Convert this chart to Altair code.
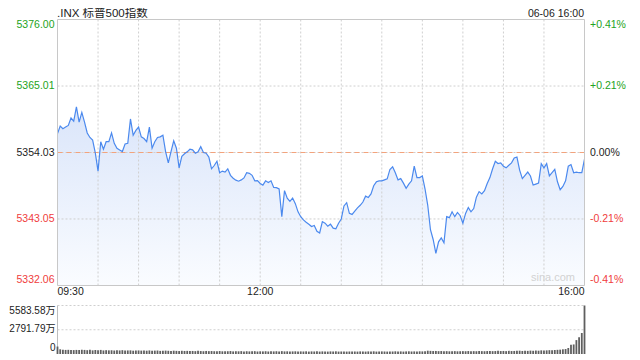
import altair as alt
import pandas as pd

# ---------------- data ----------------
TITLE = ".INX 标普500指数"
STAMP = "06-06 16:00"
WATERMARK = "sina.com"
PREV_CLOSE = 5354.03
PRICE_MIN, PRICE_MAX = 5332.06, 5376.00
VOL_MAX = 5583.58
STEP_MIN = 2  # one sample every 2 minutes from 09:30

price_ticks = [5376.00, 5365.01, 5354.03, 5343.05, 5332.06]
price_tick_labels = ["5376.00", "5365.01", "5354.03", "5343.05", "5332.06"]
pct_tick_labels = ["+0.41%", "+0.21%", "0.00%", "-0.21%", "-0.41%"]
tick_colors = ["#22a322", "#22a322", "#222222", "#f03c3c", "#f03c3c"]

time_label_minutes = [0, 150, 390]
time_labels = ["09:30", "12:00", "16:00"]
grid_minutes = [30, 60, 90, 120, 150, 180, 210, 240, 270, 300, 330, 360]

vol_ticks = [5583.58, 2791.79, 0]
vol_tick_labels = ["5583.58万", "2791.79万", "0"]

prices = [
    5357.15, 5358.39, 5357.96, 5358.23, 5358.50, 5359.73, 5359.20, 5361.56, 5359.04, 5360.65,
    5359.04, 5357.26, 5356.51, 5356.08, 5353.92, 5350.96, 5355.81, 5354.57, 5355.81, 5355.81,
    5357.26, 5355.54, 5354.73, 5354.46, 5354.19, 5355.43, 5355.54, 5359.57, 5356.88, 5357.69,
    5358.23, 5356.61, 5356.34, 5355.81, 5358.23, 5354.73, 5355.81, 5356.51, 5356.61, 5356.88,
    5354.19, 5352.31, 5354.19, 5355.97, 5354.73, 5351.50, 5353.38, 5353.81, 5354.14, 5354.57,
    5354.46, 5353.92, 5354.14, 5355.00, 5354.03, 5353.92, 5353.28, 5351.34, 5351.88, 5352.58,
    5350.69, 5350.96, 5350.80, 5351.34, 5350.26, 5349.78, 5349.46, 5349.29, 5349.51, 5349.83,
    5350.69, 5350.59, 5350.26, 5349.35, 5349.40, 5348.92, 5348.65, 5349.35, 5349.08, 5349.35,
    5348.27, 5348.22, 5348.00, 5343.43, 5347.73, 5346.50, 5345.96, 5346.50, 5345.58, 5344.23,
    5343.43, 5342.89, 5342.51, 5342.19, 5341.81, 5341.97, 5341.01, 5340.74, 5342.62, 5342.35,
    5341.87, 5342.19, 5341.54, 5341.44, 5342.35, 5343.05, 5345.20, 5345.74, 5343.97, 5343.80,
    5344.34, 5344.88, 5345.31, 5345.85, 5346.82, 5346.60, 5347.19, 5348.54, 5349.19, 5349.35,
    5349.35, 5349.51, 5349.67, 5351.23, 5351.66, 5350.69, 5349.51, 5349.72, 5348.97, 5348.11,
    5348.81, 5349.35, 5351.77, 5349.89, 5349.89, 5350.15, 5348.00, 5345.31, 5341.27, 5339.66,
    5337.35, 5339.28, 5339.93, 5339.12, 5343.43, 5343.27, 5344.23, 5343.43, 5344.13, 5343.59,
    5342.35, 5343.97, 5344.93, 5344.23, 5344.77, 5346.66, 5347.57, 5347.19, 5347.73, 5348.92,
    5349.89, 5351.34, 5352.58, 5352.20, 5352.31, 5351.77, 5351.50, 5351.93, 5352.31, 5353.12,
    5353.28, 5351.12, 5349.72, 5350.26, 5350.80, 5350.15, 5348.65, 5348.81, 5348.97, 5352.20,
    5351.50, 5352.20, 5350.15, 5350.69, 5351.23, 5349.19, 5347.89, 5348.43, 5349.35, 5351.77,
    5352.04, 5350.69, 5350.80, 5350.69, 5350.69, 5352.95,
]

volumes = [
    860, 540, 500, 470, 480, 460, 450, 470, 460, 490,
    470, 440, 480, 420, 460, 430, 470, 410, 440, 420,
    430, 400, 420, 410, 440, 390, 410, 420, 380, 400,
    410, 390, 400, 380, 410, 370, 390, 400, 360, 380,
    390, 370, 350, 380, 360, 340, 370, 350, 360, 340,
    350, 330, 360, 340, 320, 350, 330, 340, 320, 330,
    340, 310, 330, 320, 340, 300, 320, 310, 330, 300,
    320, 300, 310, 330, 290, 310, 300, 320, 290, 310,
    300, 320, 290, 330, 300, 310, 290, 300, 310, 290,
    300, 290, 310, 280, 300, 290, 310, 280, 300, 290,
    280, 300, 290, 310, 280, 290, 300, 280, 290, 300,
    290, 280, 300, 290, 280, 300, 290, 310, 280, 290,
    300, 290, 280, 300, 290, 310, 290, 300, 280, 300,
    310, 290, 300, 290, 310, 300, 320, 380, 360, 340,
    350, 330, 340, 320, 330, 310, 320, 330, 310, 320,
    330, 320, 340, 310, 330, 320, 340, 330, 320, 340,
    350, 330, 340, 360, 340, 350, 330, 360, 340, 350,
    360, 380, 350, 370, 360, 390, 370, 400, 380, 420,
    400, 420, 440, 430, 460, 480, 500, 540, 570, 690,
    1070, 1100, 1600, 1920, 2420, 5583.58,
]

# ---------------- tables ----------------
minutes = [i * STEP_MIN for i in range(len(prices))]
series = pd.DataFrame({"m": minutes, "p": prices, "base": PRICE_MIN,
                       "v": volumes, "zero": 0})
ticks = pd.DataFrame({"v": price_ticks, "lab": price_tick_labels,
                      "pct": pct_tick_labels, "col": tick_colors})
vgrid = pd.DataFrame({"m": grid_minutes, "lo": PRICE_MIN, "hi": PRICE_MAX})
hgrid = pd.DataFrame({"v": [price_ticks[1], price_ticks[3], PREV_CLOSE], "x0": 0, "x1": 390})
prev = pd.DataFrame({"v": [PREV_CLOSE], "x0": 0, "x1": 390})
box = pd.DataFrame({"x0": [0], "x1": [390], "y0": [PRICE_MIN], "y1": [PRICE_MAX]})
tlab = pd.DataFrame({"m": time_label_minutes, "lab": time_labels})
vt = pd.DataFrame({"v": vol_ticks, "lab": vol_tick_labels, "x0": 0, "x1": 390})

FONT = "Liberation Sans, Arial, Noto Sans CJK SC, sans-serif"
GRID = "#cfcfcf"

xs = alt.Scale(domain=[0, 390], range=[49.5, 576.5], padding=0)
ys = alt.Scale(domain=[PRICE_MIN, PRICE_MAX], range=[277.5, 11.5], nice=False, zero=False)
vs = alt.Scale(domain=[0, VOL_MAX], range=[346, 297.5], nice=False, zero=False)

X = lambda f: alt.X(f, scale=xs, axis=None)
YP = lambda f: alt.Y(f, scale=ys, axis=None)
YV = lambda f: alt.Y(f, scale=vs, axis=None)

grad = alt.Gradient(
    gradient="linear",
    stops=[alt.GradientStop(color="#dae5fa", offset=0),
           alt.GradientStop(color="#fafcff", offset=1)],
    x1=1, x2=1, y1=0, y2=1,
)

area = alt.Chart(series).mark_area(color=grad).encode(
    x=X("m:Q"), y=YP("p:Q"), y2="base:Q")

vlines = alt.Chart(vgrid).mark_rule(color=GRID, strokeDash=[2, 2], strokeWidth=1).encode(
    x=X("m:Q"), y=YP("lo:Q"), y2="hi:Q")

hlines = alt.Chart(hgrid).mark_rule(color=GRID, strokeDash=[2, 2], strokeWidth=1).encode(
    x=X("x0:Q"), x2="x1:Q", y=YP("v:Q"))

prevline = alt.Chart(prev).mark_rule(color="#f3a37c", strokeDash=[5, 4], strokeWidth=1).encode(
    x=X("x0:Q"), x2="x1:Q", y=YP("v:Q"))

line = alt.Chart(series).mark_line(color="#4b89ee", strokeWidth=1.2).encode(
    x=X("m:Q"), y=YP("p:Q"))

border = alt.Chart(box).mark_rect(fillOpacity=0, stroke="#c8c8c8", strokeWidth=1).encode(
    x=X("x0:Q"), x2="x1:Q", y=YP("y0:Q"), y2="y1:Q")


def side_labels(rows, field, xpix, align, dy):
    return alt.Chart(rows).mark_text(
        align=align, baseline="middle", font=FONT, fontSize=10.5, dy=dy
    ).encode(x=alt.value(xpix), y=YP("v:Q"), text=f"{field}:N",
             color=alt.Color("col:N", scale=None))


left_top = side_labels(ticks.iloc[[0]], "lab", 46.5, "right", 5)
left_mid = side_labels(ticks.iloc[1:4], "lab", 46.5, "right", 0)
left_bot = side_labels(ticks.iloc[[4]], "lab", 46.5, "right", -6)
right_top = side_labels(ticks.iloc[[0]], "pct", 582, "left", 5)
right_mid = side_labels(ticks.iloc[1:4], "pct", 582, "left", 0)
right_bot = side_labels(ticks.iloc[[4]], "pct", 582, "left", -6)

tl_style = dict(baseline="middle", font=FONT, fontSize=10.5, color="#222222")
tl0 = alt.Chart(tlab.iloc[[0]]).mark_text(align="left", **tl_style).encode(
    x=X("m:Q"), y=alt.value(284), text="lab:N")
tl1 = alt.Chart(tlab.iloc[[1]]).mark_text(align="center", **tl_style).encode(
    x=X("m:Q"), y=alt.value(284), text="lab:N")
tl2 = alt.Chart(tlab.iloc[[2]]).mark_text(align="right", **tl_style).encode(
    x=X("m:Q"), y=alt.value(284), text="lab:N")

title = alt.Chart(pd.DataFrame({"t": [TITLE]})).mark_text(
    align="left", baseline="alphabetic", font=FONT, fontSize=11.5, color="#222222"
).encode(x=alt.value(49), y=alt.value(9), text="t:N")
stamp = alt.Chart(pd.DataFrame({"t": [STAMP]})).mark_text(
    align="right", baseline="alphabetic", font=FONT, fontSize=10.5, color="#222222"
).encode(x=alt.value(576), y=alt.value(9), text="t:N")
mark = alt.Chart(pd.DataFrame({"t": [WATERMARK]})).mark_text(
    align="center", baseline="middle", font=FONT, fontSize=11, color="#d2d2d2"
).encode(x=alt.value(545), y=alt.value(270), text="t:N")

# volume panel
vgridlines = alt.Chart(vt.iloc[0:2]).mark_rule(color=GRID, strokeDash=[2, 2], strokeWidth=1).encode(
    x=X("x0:Q"), x2="x1:Q", y=YV("v:Q"))
vleft = alt.Chart(pd.DataFrame({"x": [0], "a": [0], "b": [VOL_MAX]})).mark_rule(
    color="#bdbdbd", strokeWidth=1).encode(x=X("x:Q"), y=YV("a:Q"), y2="b:Q")
bars = alt.Chart(series).mark_bar(color="#5f5f5f", size=1.8).encode(
    x=X("m:Q"), y=YV("v:Q"), y2="zero:Q")

vl_style = dict(align="right", baseline="middle", font=FONT, fontSize=10, color="#222222")
vlab0 = alt.Chart(vt.iloc[[0]]).mark_text(dy=5, **vl_style).encode(
    x=alt.value(47.5), y=YV("v:Q"), text="lab:N")
vlab1 = alt.Chart(vt.iloc[[1]]).mark_text(dy=-1, **vl_style).encode(
    x=alt.value(47.5), y=YV("v:Q"), text="lab:N")
vlab2 = alt.Chart(vt.iloc[[2]]).mark_text(dy=-6, **vl_style).encode(
    x=alt.value(47.5), y=YV("v:Q"), text="lab:N")

chart = alt.layer(
    area, vlines, hlines, prevline, line, border, mark,
    left_top, left_mid, left_bot, right_top, right_mid, right_bot,
    tl0, tl1, tl2, title, stamp,
    vgridlines, vleft, bars, vlab0, vlab1, vlab2,
).resolve_scale(y="independent", color="independent").properties(
    width=624, height=352, padding=0, autosize="none"
).configure_view(strokeWidth=0)

chart.save("out.html", embed_options={"renderer": "svg", "actions": False})
